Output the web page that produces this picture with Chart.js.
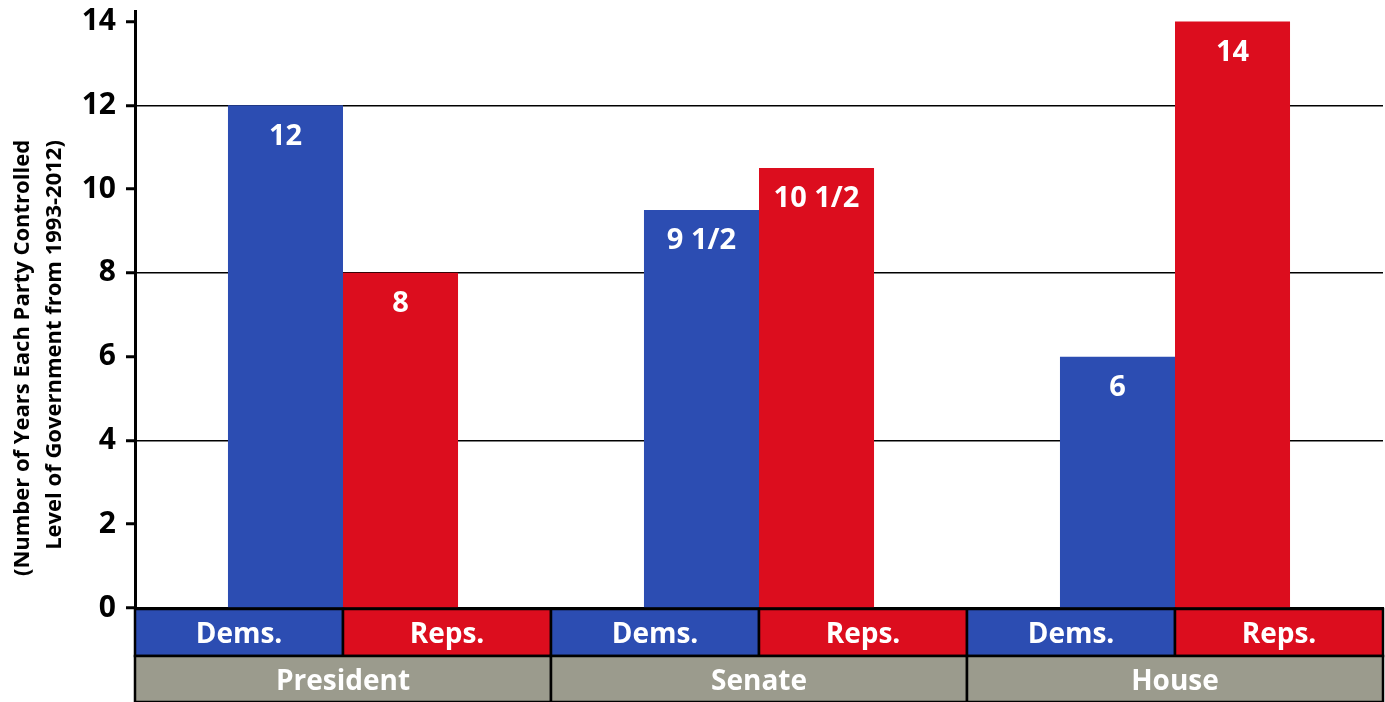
<!DOCTYPE html>
<html>
<head>
<meta charset="utf-8">
<script src="https://cdn.jsdelivr.net/npm/chart.js@4"></script>
<style>
  body { margin: 0; background: #fff; }
  #wrap { width: 1385px; height: 702px; position: relative; }
</style>
</head>
<body>
<div id="wrap"><canvas id="chart"></canvas></div>
<script>
// Data
const groups = ['President', 'Senate', 'House'];
const parties = ['Dems.', 'Reps.'];
const demYears = [12, 9.5, 6];
const repYears = [8, 10.5, 14];
const demText = ['12', '9 1/2', '6'];
const repText = ['8', '10 1/2', '14'];
const gridValues = [4, 8, 12];
const axisTitle = ['(Number of Years Each Party Controlled', 'Level of Government from 1993-2012)'];

const BLUE = '#2c4db2';
const RED = '#dc0d1e';
const GREY = '#9b9b8d';
const FONT = '"Open Sans", "DejaVu Sans", sans-serif';

// Value labels inside bar tops
const barLabels = {
    id: 'barLabels',
    afterDatasetsDraw(chart) {
        const ctx = chart.ctx;
        const texts = [demText, repText];
        ctx.save();
        ctx.fillStyle = '#fff';
        ctx.font = 'bold 29px ' + FONT;
        ctx.textAlign = 'center';
        ctx.textBaseline = 'middle';
        chart.data.datasets.forEach((ds, d) => {
            chart.getDatasetMeta(d).data.forEach((bar, i) => {
                ctx.fillText(texts[d][i], bar.x, bar.y + 31);
            });
        });
        ctx.restore();
    }
};

// Table of party / office cells under the axis, plus rotated axis title
const partyTable = {
    id: 'partyTable',
    afterDraw(chart) {
        const { ctx, chartArea: a, scales: { x } } = chart;
        const catW = (a.right - a.left) / groups.length;
        const r1 = a.bottom + 1, r1h = 47;
        const r2 = r1 + r1h, r2h = chart.height - r2;
        ctx.save();
        ctx.lineWidth = 2.5;
        ctx.strokeStyle = '#000';
        ctx.fillStyle = '#fff';
        ctx.textAlign = 'center';
        ctx.textBaseline = 'middle';
        ctx.font = 'bold 28px ' + FONT;
        groups.forEach((g, i) => {
            const left = x.getPixelForValue(i) - catW / 2;
            parties.forEach((p, j) => {
                const cx = left + j * catW / 2;
                ctx.fillStyle = j === 0 ? BLUE : RED;
                ctx.fillRect(cx, r1, catW / 2, r1h);
                ctx.strokeRect(cx, r1, catW / 2, r1h);
                ctx.fillStyle = '#fff';
                ctx.fillText(p, cx + catW / 4, r1 + r1h / 2 + 3);
            });
            ctx.fillStyle = GREY;
            ctx.fillRect(left, r2, catW, r2h);
            ctx.strokeRect(left, r2, catW, r2h);
            ctx.fillStyle = '#fff';
            ctx.fillText(g, left + catW / 2, r2 + r2h / 2 + 3);
        });

        ctx.fillStyle = '#000';
        ctx.font = 'bold 22px ' + FONT;
        axisTitle.forEach((line, k) => {
            ctx.save();
            ctx.translate(23 + k * 32, 358 - k * 13);
            ctx.rotate(-Math.PI / 2);
            ctx.fillText(line, 0, 0);
            ctx.restore();
        });
        ctx.restore();
    }
};

new Chart(document.getElementById('chart'), {
    type: 'bar',
    data: {
        labels: groups,
        datasets: [
            { label: 'Dems.', data: demYears, backgroundColor: BLUE },
            { label: 'Reps.', data: repYears, backgroundColor: RED }
        ]
    },
    options: {
        responsive: true,
        maintainAspectRatio: false,
        animation: false,
        categoryPercentage: 0.553,
        barPercentage: 1,
        layout: { padding: { top: 11, right: 2, bottom: 86, left: 0 } },
        plugins: {
            legend: { display: false },
            tooltip: { enabled: false }
        },
        scales: {
            x: {
                grid: { display: false },
                ticks: { display: false },
                border: { color: '#000', width: 3 }
            },
            y: {
                min: 0,
                max: 14.25,
                afterFit: (scale) => {
                    scale.width = 135;
                    scale.paddingTop = 0;
                    scale.paddingBottom = 0;
                },
                ticks: {
                    stepSize: 2,
                    includeBounds: false,
                    color: '#000',
                    padding: 10,
                    font: { family: FONT, size: 30, weight: 'bold' }
                },
                grid: {
                    color: (c) => gridValues.includes(c.tick && c.tick.value) ? '#000' : 'rgba(0,0,0,0)',
                    lineWidth: 1.5,
                    tickLength: 9,
                    tickColor: '#000',
                    tickWidth: 3
                },
                border: { color: '#000', width: 3 }
            }
        }
    },
    plugins: [barLabels, partyTable]
});
</script>
</body>
</html>
